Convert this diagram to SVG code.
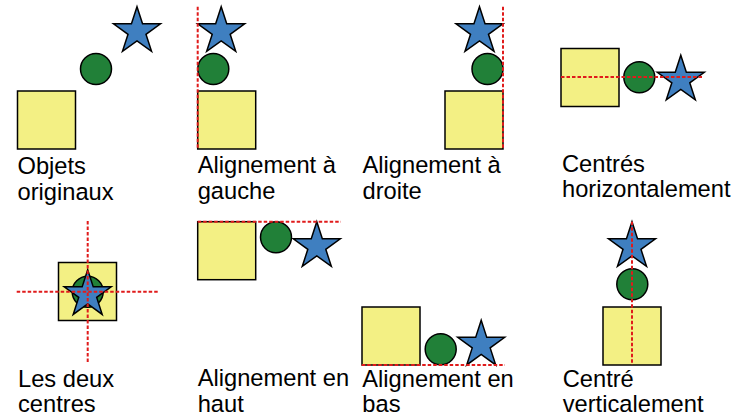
<svg xmlns="http://www.w3.org/2000/svg" xmlns:xlink="http://www.w3.org/1999/xlink" width="742" height="418" viewBox="0 0 742 418">
<style>
.sq{fill:#f3f084;stroke:#000;stroke-width:1.5}
.ci{fill:#218038;stroke:#000;stroke-width:1.5}
.st{fill:#3f7fc0;stroke:#000;stroke-width:1.5;stroke-linejoin:miter}
.g{stroke:#e01b1b;stroke-width:2;stroke-dasharray:3.5,2;fill:none}
text{font-family:"Liberation Sans",Arial,sans-serif;font-size:23.7px;fill:#000}
</style>
<defs>
<path id="star" d="M0,-24.7 L5.54,-7.63 L23.49,-7.63 L8.97,2.91 L14.52,19.98 L0,9.43 L-14.52,19.98 L-8.97,2.91 L-23.49,-7.63 L-5.54,-7.63 Z"/>
</defs>
<rect width="742" height="418" fill="#fff"/>
<g id="p1">
<rect class="sq" x="17.5" y="91" width="58" height="58"/>
<circle class="ci" cx="96" cy="69" r="15.5"/>
<use class="st" xlink:href="#star" href="#star" transform="translate(137,31.4)"/>
<text x="17.5" y="174">Objets</text><text x="17.5" y="199.5">originaux</text>
</g>
<g id="p2">
<rect class="sq" x="197.7" y="91" width="58" height="58"/>
<circle class="ci" cx="213.3" cy="69" r="15.5"/>
<use class="st" xlink:href="#star" href="#star" transform="translate(221.2,31.4)"/>
<text x="197.7" y="172.5">Alignement à</text><text x="197.7" y="198.5">gauche</text>
</g>
<g id="p3">
<rect class="sq" x="445" y="91" width="58" height="58"/>
<circle class="ci" cx="487.5" cy="69" r="15.5"/>
<use class="st" xlink:href="#star" href="#star" transform="translate(479.5,31.4)"/>
<text x="362.5" y="172.5">Alignement à</text><text x="362.5" y="198.5">droite</text>
</g>
<g id="p4">
<rect class="sq" x="561" y="48.5" width="58" height="58"/>
<circle class="ci" cx="639.3" cy="77.3" r="15.5"/>
<use class="st" xlink:href="#star" href="#star" transform="translate(680.8,79.9)"/>
<text x="562" y="171.5">Centrés</text><text x="562" y="197">horizontalement</text>
</g>
<g id="p5">
<rect class="sq" x="58.5" y="262.5" width="58" height="58"/>
<circle class="ci" cx="87.7" cy="291.7" r="15.5"/>
<use class="st" xlink:href="#star" href="#star" transform="translate(87.7,294.5)"/>
<text x="18" y="386.5">Les deux</text><text x="18" y="412">centres</text>
</g>
<g id="p6">
<rect class="sq" x="197.7" y="221.7" width="58" height="58"/>
<circle class="ci" cx="276" cy="237.3" r="15.5"/>
<use class="st" xlink:href="#star" href="#star" transform="translate(316.8,246.4)"/>
<text x="197.7" y="386">Alignement en</text><text x="197.7" y="411.5">haut</text>
</g>
<g id="p7">
<rect class="sq" x="362" y="307" width="58" height="58"/>
<circle class="ci" cx="440.7" cy="349.3" r="15.5"/>
<use class="st" xlink:href="#star" href="#star" transform="translate(481.2,345)"/>
<text x="362.3" y="387.3">Alignement en</text><text x="362.3" y="412.3">bas</text>
</g>
<g id="p8">
<rect class="sq" x="603" y="307" width="58" height="58"/>
<circle class="ci" cx="632.3" cy="284.3" r="15.5"/>
<use class="st" xlink:href="#star" href="#star" transform="translate(632,246.4)"/>
<text x="562.7" y="386.5">Centré</text><text x="562.7" y="412">verticalement</text>
</g>
<g id="guides">
<line class="g" x1="197.7" y1="6.7" x2="197.7" y2="149"/>
<line class="g" x1="503" y1="6.7" x2="503" y2="149"/>
<line class="g" x1="561" y1="77" x2="704" y2="77"/>
<line class="g" x1="87.7" y1="221" x2="87.7" y2="364"/>
<line class="g" x1="16.7" y1="291.7" x2="159" y2="291.7"/>
<line class="g" x1="197.7" y1="221.7" x2="341" y2="221.7"/>
<line class="g" x1="361.7" y1="365" x2="505" y2="365"/>
<line class="g" x1="632" y1="221.7" x2="632" y2="365"/>
</g>
</svg>
